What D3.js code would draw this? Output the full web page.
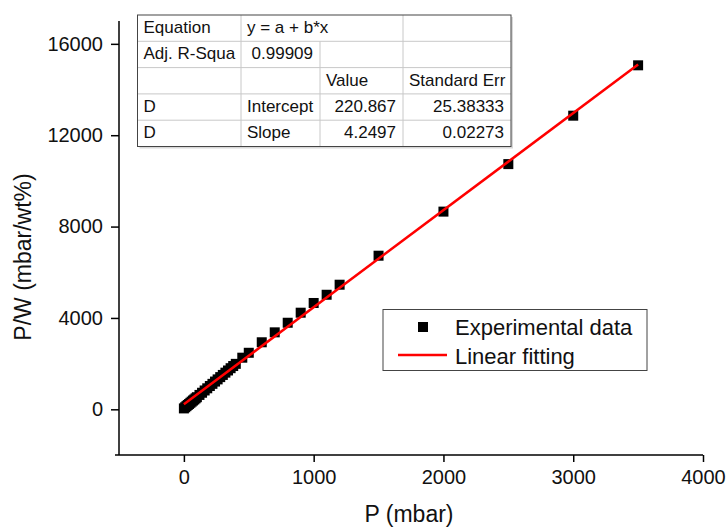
<!DOCTYPE html>
<html>
<head>
<meta charset="utf-8">
<script src="https://cdn.jsdelivr.net/npm/d3@7"></script>
<style>
  body { margin: 0; background: #fff; }
  svg { display: block; font-family: "Liberation Sans", Arial, sans-serif; }
</style>
</head>
<body>
<svg id="chart" width="728" height="529"></svg>
<script>
// measured data (P in mbar, P/W in mbar/wt%)
var pressure = [0, 10, 20, 30, 40, 50, 60, 70, 80, 90, 100, 120, 140, 160, 180, 200, 220, 240, 260, 280,
  300, 320, 340, 360, 380, 400, 450, 500, 600, 700, 800, 900, 1000, 1100, 1200, 1500, 2000, 2500, 3000, 3500];
var pOverW = [40, 90, 140, 190, 235, 285, 335, 385, 430, 480, 530, 630, 725, 825, 920, 1020, 1115, 1215, 1310, 1410,
  1505, 1605, 1700, 1800, 1895, 1990, 2260, 2475, 2935, 3370, 3790, 4230, 4655, 5015, 5455, 6725, 8655, 10735, 12855, 15060];

// linear fit y = a + b*x
var fitIntercept = 220.867, fitSlope = 4.2497;
var fitX = [0, 3500];

var xMajor = [0, 1000, 2000, 3000, 4000];
var xMinor = [-500, 500, 1500, 2500, 3500];
var yMajor = [0, 4000, 8000, 12000, 16000];
var yMinor = [-2000, 2000, 6000, 10000, 14000];

var tableRows = [
  ["Equation", "y = a + b*x", "", ""],
  ["Adj. R-Squa", "0.99909", "", ""],
  ["", "", "Value", "Standard Err"],
  ["D", "Intercept", "220.867", "25.38333"],
  ["D", "Slope", "4.2497", "0.02273"]
];
var legendItems = ["Experimental data", "Linear fitting"];

var width = 728, height = 529;
var margin = {top: 21, right: 25, bottom: 74, left: 119};

var svg = d3.select("#chart");

var x = d3.scaleLinear().domain([-500, 4000]).range([margin.left, width - margin.right]);
var y = d3.scaleLinear().domain([-2000, 17000]).range([height - margin.bottom, margin.top]);

// axes
var gx = svg.append("g").attr("transform", "translate(0," + y(-2000) + ")");
gx.call(d3.axisBottom(x).tickValues(xMinor).tickSize(4).tickFormat(""));
gx.call(d3.axisBottom(x).tickValues(xMajor).tickSize(7).tickPadding(8).tickFormat(d3.format("d")));
gx.selectAll(".domain").remove();
gx.append("line").attr("x1", x(-500) - 4).attr("x2", x(4000)).attr("stroke", "#000").attr("stroke-width", 1.5);

var gy = svg.append("g").attr("transform", "translate(" + x(-500) + ",0)");
gy.call(d3.axisLeft(y).tickValues(yMinor).tickSize(4).tickFormat(""));
gy.call(d3.axisLeft(y).tickValues(yMajor).tickSize(8).tickPadding(8).tickFormat(d3.format("d")));
gy.selectAll(".domain").remove();
gy.append("line").attr("y1", y(17000)).attr("y2", y(-2000)).attr("stroke", "#000").attr("stroke-width", 1.5);

svg.selectAll(".tick line").attr("stroke", "#000").attr("stroke-width", 1.5);
svg.selectAll(".tick text").attr("font-size", 20).attr("fill", "#111").attr("font-family", "Liberation Sans, Arial, sans-serif");

svg.append("text")
  .attr("x", x(1750) - 2).attr("y", 522)
  .attr("text-anchor", "middle").attr("font-size", 23).attr("fill", "#111")
  .text("P (mbar)");
svg.append("text")
  .attr("transform", "translate(31,257) rotate(-90)")
  .attr("text-anchor", "middle").attr("font-size", 23).attr("fill", "#111")
  .text("P/W (mbar/wt%)");

// data points
var ms = 10;
svg.append("g").selectAll("rect")
  .data(pressure)
  .enter().append("rect")
  .attr("x", function(d) { return x(d) - ms / 2; })
  .attr("y", function(d, i) { return y(pOverW[i]) - ms / 2; })
  .attr("width", ms).attr("height", ms)
  .attr("fill", "#000");

// fit line
svg.append("path")
  .datum(fitX)
  .attr("fill", "none").attr("stroke", "#ff0000").attr("stroke-width", 2.5)
  .attr("d", d3.line()
    .x(function(d) { return x(d); })
    .y(function(d) { return y(fitIntercept + fitSlope * d); }));

// fit table
var colX = [137.5, 241, 320, 403, 511];
var rowH = 26.3, tTop = 15;
var table = svg.append("g");
table.append("rect")
  .attr("x", colX[0] + 2).attr("y", tTop + 2)
  .attr("width", colX[4] - colX[0]).attr("height", rowH * 5)
  .attr("fill", "#d8d8d8");
table.append("rect")
  .attr("x", colX[0]).attr("y", tTop)
  .attr("width", colX[4] - colX[0]).attr("height", rowH * 5)
  .attr("fill", "#fff");
for (var r = 1; r < 5; r++) {
  table.append("line")
    .attr("x1", colX[0]).attr("x2", colX[4])
    .attr("y1", tTop + r * rowH).attr("y2", tTop + r * rowH)
    .attr("stroke", "#c8c8c8");
}
table.append("line").attr("x1", colX[1]).attr("x2", colX[1]).attr("y1", tTop).attr("y2", tTop + 5 * rowH).attr("stroke", "#c8c8c8");
table.append("line").attr("x1", colX[2]).attr("x2", colX[2]).attr("y1", tTop + rowH).attr("y2", tTop + 5 * rowH).attr("stroke", "#c8c8c8");
table.append("line").attr("x1", colX[3]).attr("x2", colX[3]).attr("y1", tTop).attr("y2", tTop + 5 * rowH).attr("stroke", "#c8c8c8");
table.append("rect")
  .attr("x", colX[0]).attr("y", tTop)
  .attr("width", colX[4] - colX[0]).attr("height", rowH * 5)
  .attr("fill", "none").attr("stroke", "#444");

tableRows.forEach(function(row, ri) {
  row.forEach(function(cell, ci) {
    if (!cell) return;
    var numeric = /^[0-9.]+$/.test(cell);
    table.append("text")
      .attr("x", numeric ? colX[ci + 1] - 7 : colX[ci] + 6)
      .attr("y", tTop + ri * rowH + 18)
      .attr("text-anchor", numeric ? "end" : "start")
      .attr("font-size", 17).attr("fill", "#111")
      .text(cell);
  });
});

// legend
var legend = svg.append("g");
legend.append("rect")
  .attr("x", 383).attr("y", 309.5).attr("width", 264).attr("height", 61)
  .attr("fill", "#fff").attr("stroke", "#444");
legend.append("rect")
  .attr("x", 423 - ms / 2).attr("y", 327 - ms / 2).attr("width", ms).attr("height", ms).attr("fill", "#000");
legend.append("line")
  .attr("x1", 398).attr("x2", 447).attr("y1", 355).attr("y2", 355)
  .attr("stroke", "#ff0000").attr("stroke-width", 2.5);
legend.selectAll("text.item")
  .data(legendItems)
  .enter().append("text")
  .attr("class", "item")
  .attr("x", 455)
  .attr("y", function(d, i) { return 335 + i * 28.5; })
  .attr("font-size", 22).attr("fill", "#111")
  .text(function(d) { return d; });
</script>
</body>
</html>
